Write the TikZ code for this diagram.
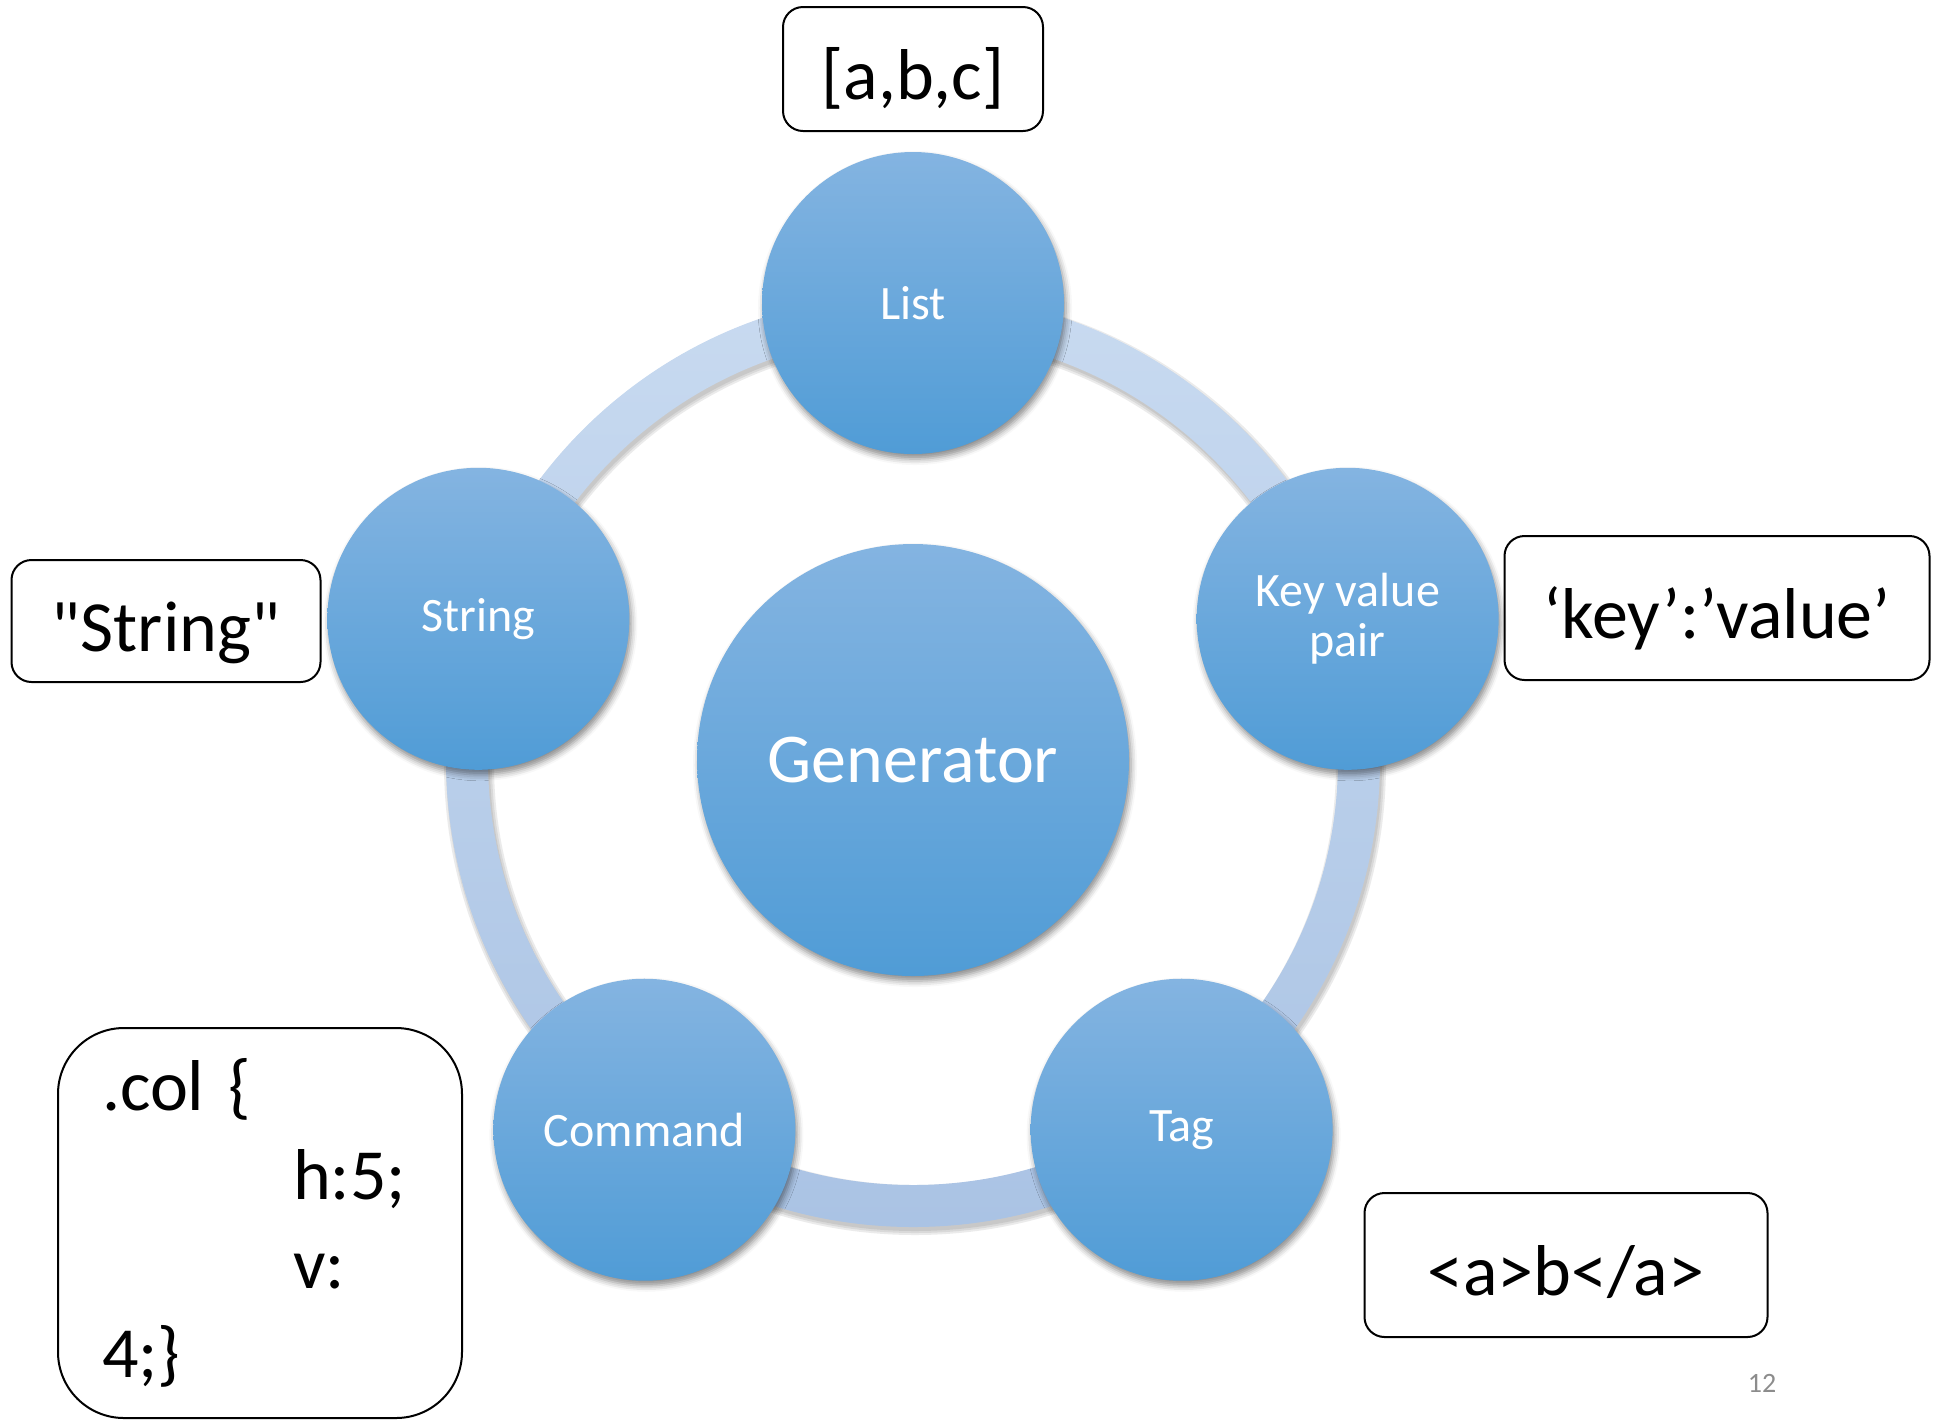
\documentclass[tikz,border=0pt]{standalone}
\usepackage{fontspec}
\setmainfont{Carlito}
\usepackage{xcolor}
\usetikzlibrary{shapes, positioning, shadows.blur}

\definecolor{bubbletop}{RGB}{132,180,225}
\definecolor{bubblebot}{RGB}{80,156,214}
\definecolor{ringtop}{RGB}{200,218,240}
\definecolor{ringbot}{RGB}{170,195,228}
\definecolor{pagegray}{RGB}{140,140,140}

\tikzset{
	softshadow/.style={blur shadow={shadow xshift=1pt, shadow yshift=-2.5pt,
			shadow blur radius=3pt, shadow opacity=45}},
	bubble/.style={circle, inner sep=0pt, minimum size=151pt, align=center,
		text=white, font=\fontsize{24}{25}\selectfont,
		top color=bubbletop, bottom color=bubblebot, softshadow},
	hub/.style={bubble, minimum size=216pt, font=\fontsize{35}{40}\selectfont},
	example/.style={draw, rounded corners=10pt, line width=1pt, inner sep=0pt,
		font=\fontsize{36}{44.5}\selectfont, text height=30pt, text depth=0pt},
	codebox/.style={draw, rounded corners=33pt, line width=1pt, inner xsep=22pt,
		align=left, text width=158pt, minimum height=195pt,
		font=\fontsize{36}{44.5}\selectfont},
}

\begin{document}
\begin{tikzpicture}[x=0.5pt, y=-0.5pt]
	\useasboundingbox (0,0) rectangle (1937,1421);
	\coordinate (mid) at (913,760);
	
	% ring behind the bubbles, with a soft shadow under it
	\foreach \w in {25,23,21}
	\draw [black, opacity=0.08, line width=\w pt,
	transform canvas={xshift=1pt, yshift=-2pt}] (mid) circle [radius=223pt];
	\path [even odd rule, top color=ringtop, bottom color=ringbot]
	(mid) circle [radius=233.5pt] circle [radius=212.5pt];
	
	\node [hub] (gen) at (mid) {Generator};
	\foreach \ang/\name/\txt in {90/list/List, 18/kv/{Key value\\pair},
		-54/tag/Tag, -126/cmd/Command, 162/str/String} {
		\node [bubble] (\name) at ([shift={(\ang:228.5pt)}]mid) {\txt};
	}
	
	%%
	\node [example, minimum width=130pt, minimum height=62pt] (listex) at (913,69) {[a,b,c]};
	\node [example, minimum width=154.5pt, minimum height=61pt] (strex) at (166,621)
	{\textquotedbl String\textquotedbl};
	\node [example, minimum width=212.5pt, minimum height=72pt] (kvex) at (1717,608) {‘key’:’value’};
	\node [example, minimum width=201.5pt, minimum height=72pt] (tagex) at (1566,1265) {<a>b</a>};
	\node [codebox] (cmdex) at (260,1223) {.col \{\\
		\hspace*{95.5pt}h:5;\\
		\hspace*{95.5pt}v:\\
		4;\}};
	
	\node [text=pagegray, font=\fontsize{14}{16}\selectfont] (pgnum) at (1762,1383) {12};
\end{tikzpicture}
\end{document}
